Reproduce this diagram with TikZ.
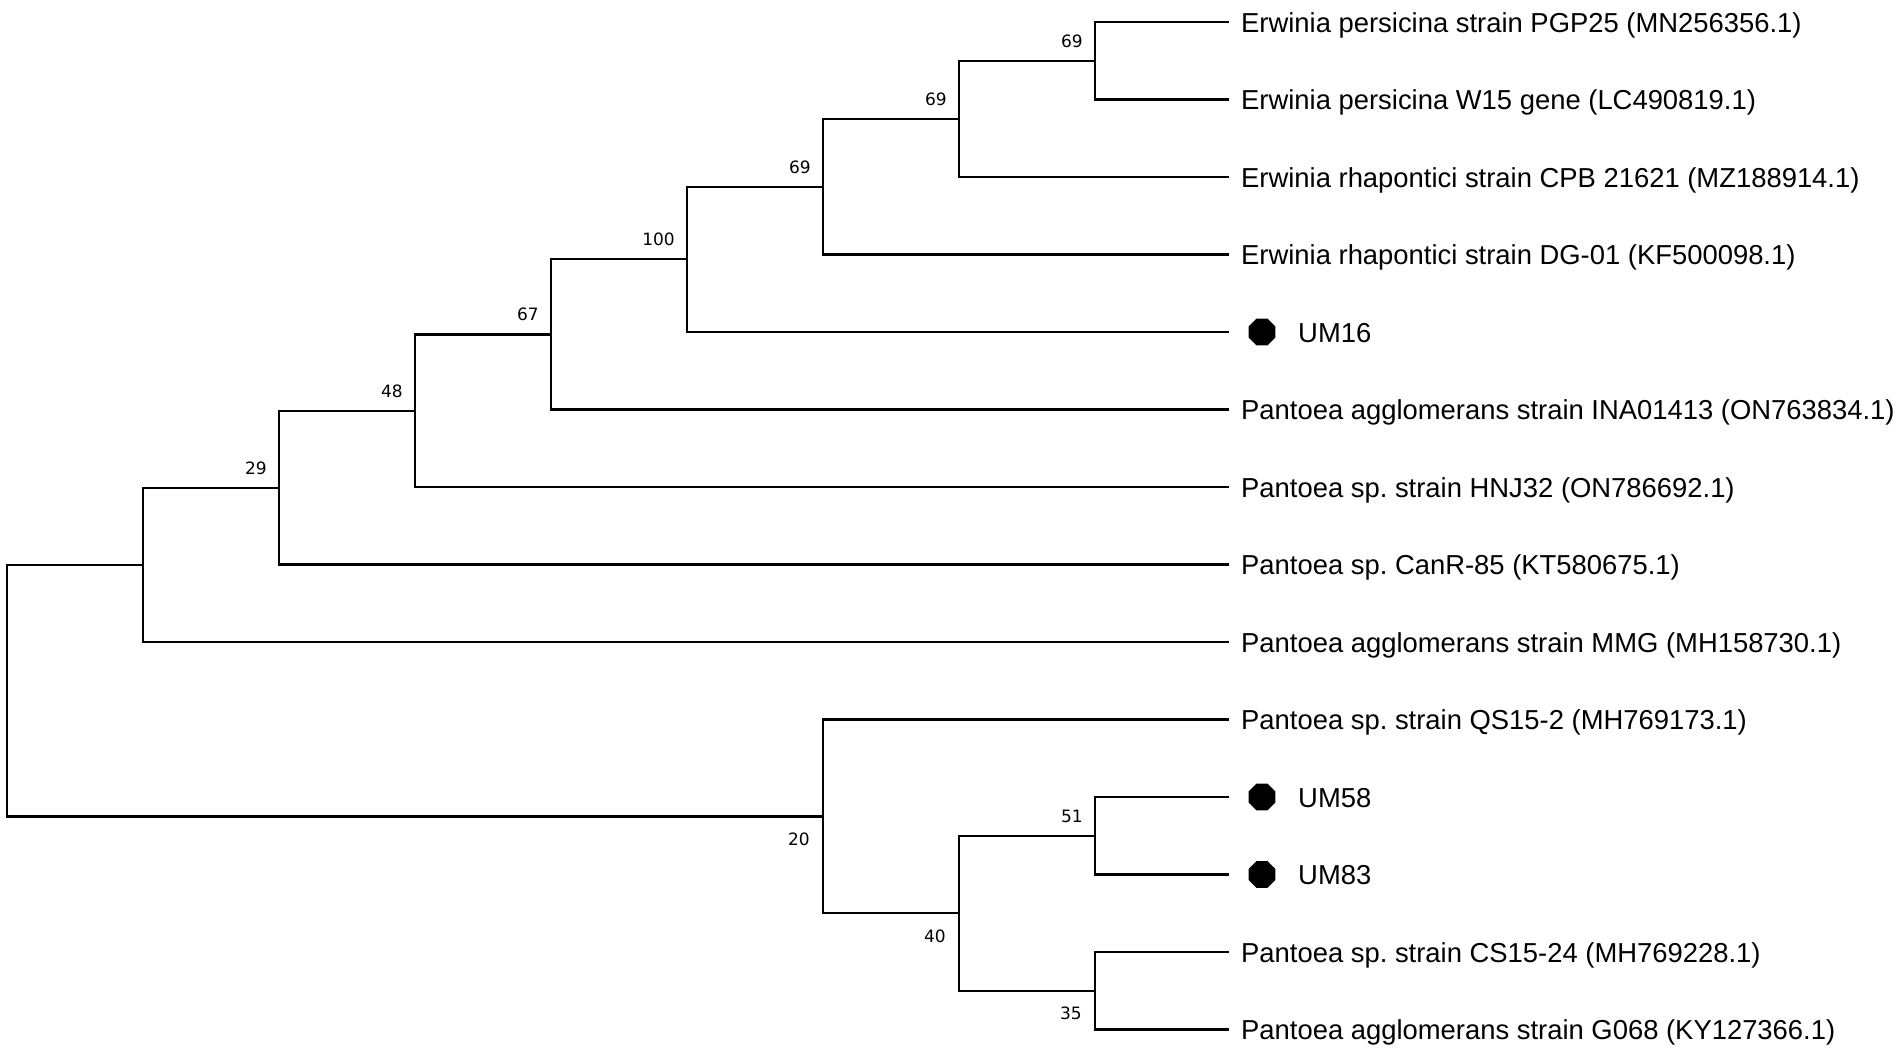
\documentclass[tikz,border=0pt]{standalone}
\usepackage{fontspec}
\usepackage{tikz}
\usetikzlibrary{shapes.geometric}
\newfontfamily\taxonfamily{Liberation Sans}
\newfontfamily\bootfamily{DejaVu Sans}
\frenchspacing
\tikzset{
  branch/.style={line width=2.2pt},
  taxon/.style={anchor=base west, inner sep=0pt, font=\taxonfamily\fontsize{27.4}{30}\selectfont},
  boot/.style={inner sep=0pt, font=\bootfamily\fontsize{17}{19}\selectfont},
  isolate/.style={regular polygon, regular polygon sides=8, fill=black, inner sep=0pt, minimum size=29pt}
}
\begin{document}
\begin{tikzpicture}[x=1pt, y=-1pt]
\useasboundingbox (0,0) rectangle (1902,1063);
% leaves
\coordinate (pgp) at (1229,22);
\coordinate (wfift) at (1229,99.5);
\coordinate (cpb) at (1229,177);
\coordinate (dg) at (1229,254.5);
\coordinate (um16) at (1229,332);
\coordinate (ina) at (1229,409.5);
\coordinate (hnj) at (1229,487);
\coordinate (canr) at (1229,564.5);
\coordinate (mmg) at (1229,642);
\coordinate (qs) at (1229,719.5);
\coordinate (um58) at (1229,797);
\coordinate (um83) at (1229,874.5);
\coordinate (cs) at (1229,952);
\coordinate (g068) at (1229,1029.5);
% inner nodes
\coordinate (n69c) at (1095,60.75);
\coordinate (n69b) at (959,118.9);
\coordinate (n69a) at (823,186.7);
\coordinate (n100) at (687,259.3);
\coordinate (n67) at (551,334.4);
\coordinate (n48) at (415,410.7);
\coordinate (n29) at (279,487.6);
\coordinate (nA) at (143,564.8);
\coordinate (n51) at (1095,835.75);
\coordinate (n35) at (1095,990.75);
\coordinate (n40) at (959,913.25);
\coordinate (n20) at (823,816.4);
\coordinate (root) at (7,690.6);

\draw [branch] (root) |- (nA);
\draw [branch] (root) |- (n20);
\draw [branch] (nA) |- (n29);
\draw [branch] (nA) |- (mmg);
\draw [branch] (n29) |- (n48);
\draw [branch] (n29) |- (canr);
\draw [branch] (n48) |- (n67);
\draw [branch] (n48) |- (hnj);
\draw [branch] (n67) |- (n100);
\draw [branch] (n67) |- (ina);
\draw [branch] (n100) |- (n69a);
\draw [branch] (n100) |- (um16);
\draw [branch] (n69a) |- (n69b);
\draw [branch] (n69a) |- (dg);
\draw [branch] (n69b) |- (n69c);
\draw [branch] (n69b) |- (cpb);
\draw [branch] (n69c) |- (pgp);
\draw [branch] (n69c) |- (wfift);
\draw [branch] (n20) |- (qs);
\draw [branch] (n20) |- (n40);
\draw [branch] (n40) |- (n51);
\draw [branch] (n40) |- (n35);
\draw [branch] (n51) |- (um58);
\draw [branch] (n51) |- (um83);
\draw [branch] (n35) |- (cs);
\draw [branch] (n35) |- (g068);

\node [taxon] (pgplbl) at ([xshift=12pt,yshift=-10pt]pgp) {Erwinia persicina strain PGP25 (MN256356.1)};
\node [taxon] (wfiftlbl) at ([xshift=12pt,yshift=-10pt]wfift) {Erwinia persicina W15 gene (LC490819.1)};
\node [taxon] (cpblbl) at ([xshift=12pt,yshift=-10pt]cpb) {Erwinia rhapontici strain CPB 21621 (MZ188914.1)};
\node [taxon] (dglbl) at ([xshift=12pt,yshift=-10pt]dg) {Erwinia rhapontici strain DG-01 (KF500098.1)};
\node [taxon] (inalbl) at ([xshift=12pt,yshift=-10pt]ina) {Pantoea agglomerans strain INA01413 (ON763834.1)};
\node [taxon] (hnjlbl) at ([xshift=12pt,yshift=-10pt]hnj) {Pantoea sp. strain HNJ32 (ON786692.1)};
\node [taxon] (canrlbl) at ([xshift=12pt,yshift=-10pt]canr) {Pantoea sp. CanR-85 (KT580675.1)};
\node [taxon] (mmglbl) at ([xshift=12pt,yshift=-10pt]mmg) {Pantoea agglomerans strain MMG (MH158730.1)};
\node [taxon] (qslbl) at ([xshift=12pt,yshift=-10pt]qs) {Pantoea sp. strain QS15-2 (MH769173.1)};
\node [taxon] (cslbl) at ([xshift=12pt,yshift=-10pt]cs) {Pantoea sp. strain CS15-24 (MH769228.1)};
\node [taxon] (g068lbl) at ([xshift=12pt,yshift=-10pt]g068) {Pantoea agglomerans strain G068 (KY127366.1)};

\node [isolate] (um16dot) at ([xshift=33pt]um16) {};
\node [isolate] (um58dot) at ([xshift=33pt]um58) {};
\node [isolate] (um83dot) at ([xshift=33pt]um83) {};
\node [taxon] (um16lbl) at ([xshift=69pt,yshift=-10pt]um16) {UM16};
\node [taxon] (um58lbl) at ([xshift=69pt,yshift=-10pt]um58) {UM58};
\node [taxon] (um83lbl) at ([xshift=69pt,yshift=-10pt]um83) {UM83};

\node [boot, anchor=south east] (b69c) at ([xshift=-12pt,yshift=13pt]n69c) {69};
\node [boot, anchor=south east] (b69b) at ([xshift=-12pt,yshift=13pt]n69b) {69};
\node [boot, anchor=south east] (b69a) at ([xshift=-12pt,yshift=13pt]n69a) {69};
\node [boot, anchor=south east] (b100) at ([xshift=-12pt,yshift=13pt]n100) {100};
\node [boot, anchor=south east] (b67) at ([xshift=-12pt,yshift=13pt]n67) {67};
\node [boot, anchor=south east] (b48) at ([xshift=-12pt,yshift=13pt]n48) {48};
\node [boot, anchor=south east] (b29) at ([xshift=-12pt,yshift=13pt]n29) {29};
\node [boot, anchor=south east] (b51) at ([xshift=-12pt,yshift=13pt]n51) {51};
\node [boot, anchor=north east] (b20) at ([xshift=-13pt,yshift=-16pt]n20) {20};
\node [boot, anchor=north east] (b40) at ([xshift=-13pt,yshift=-16pt]n40) {40};
\node [boot, anchor=north east] (b35) at ([xshift=-13pt,yshift=-16pt]n35) {35};
\end{tikzpicture}
\end{document}
